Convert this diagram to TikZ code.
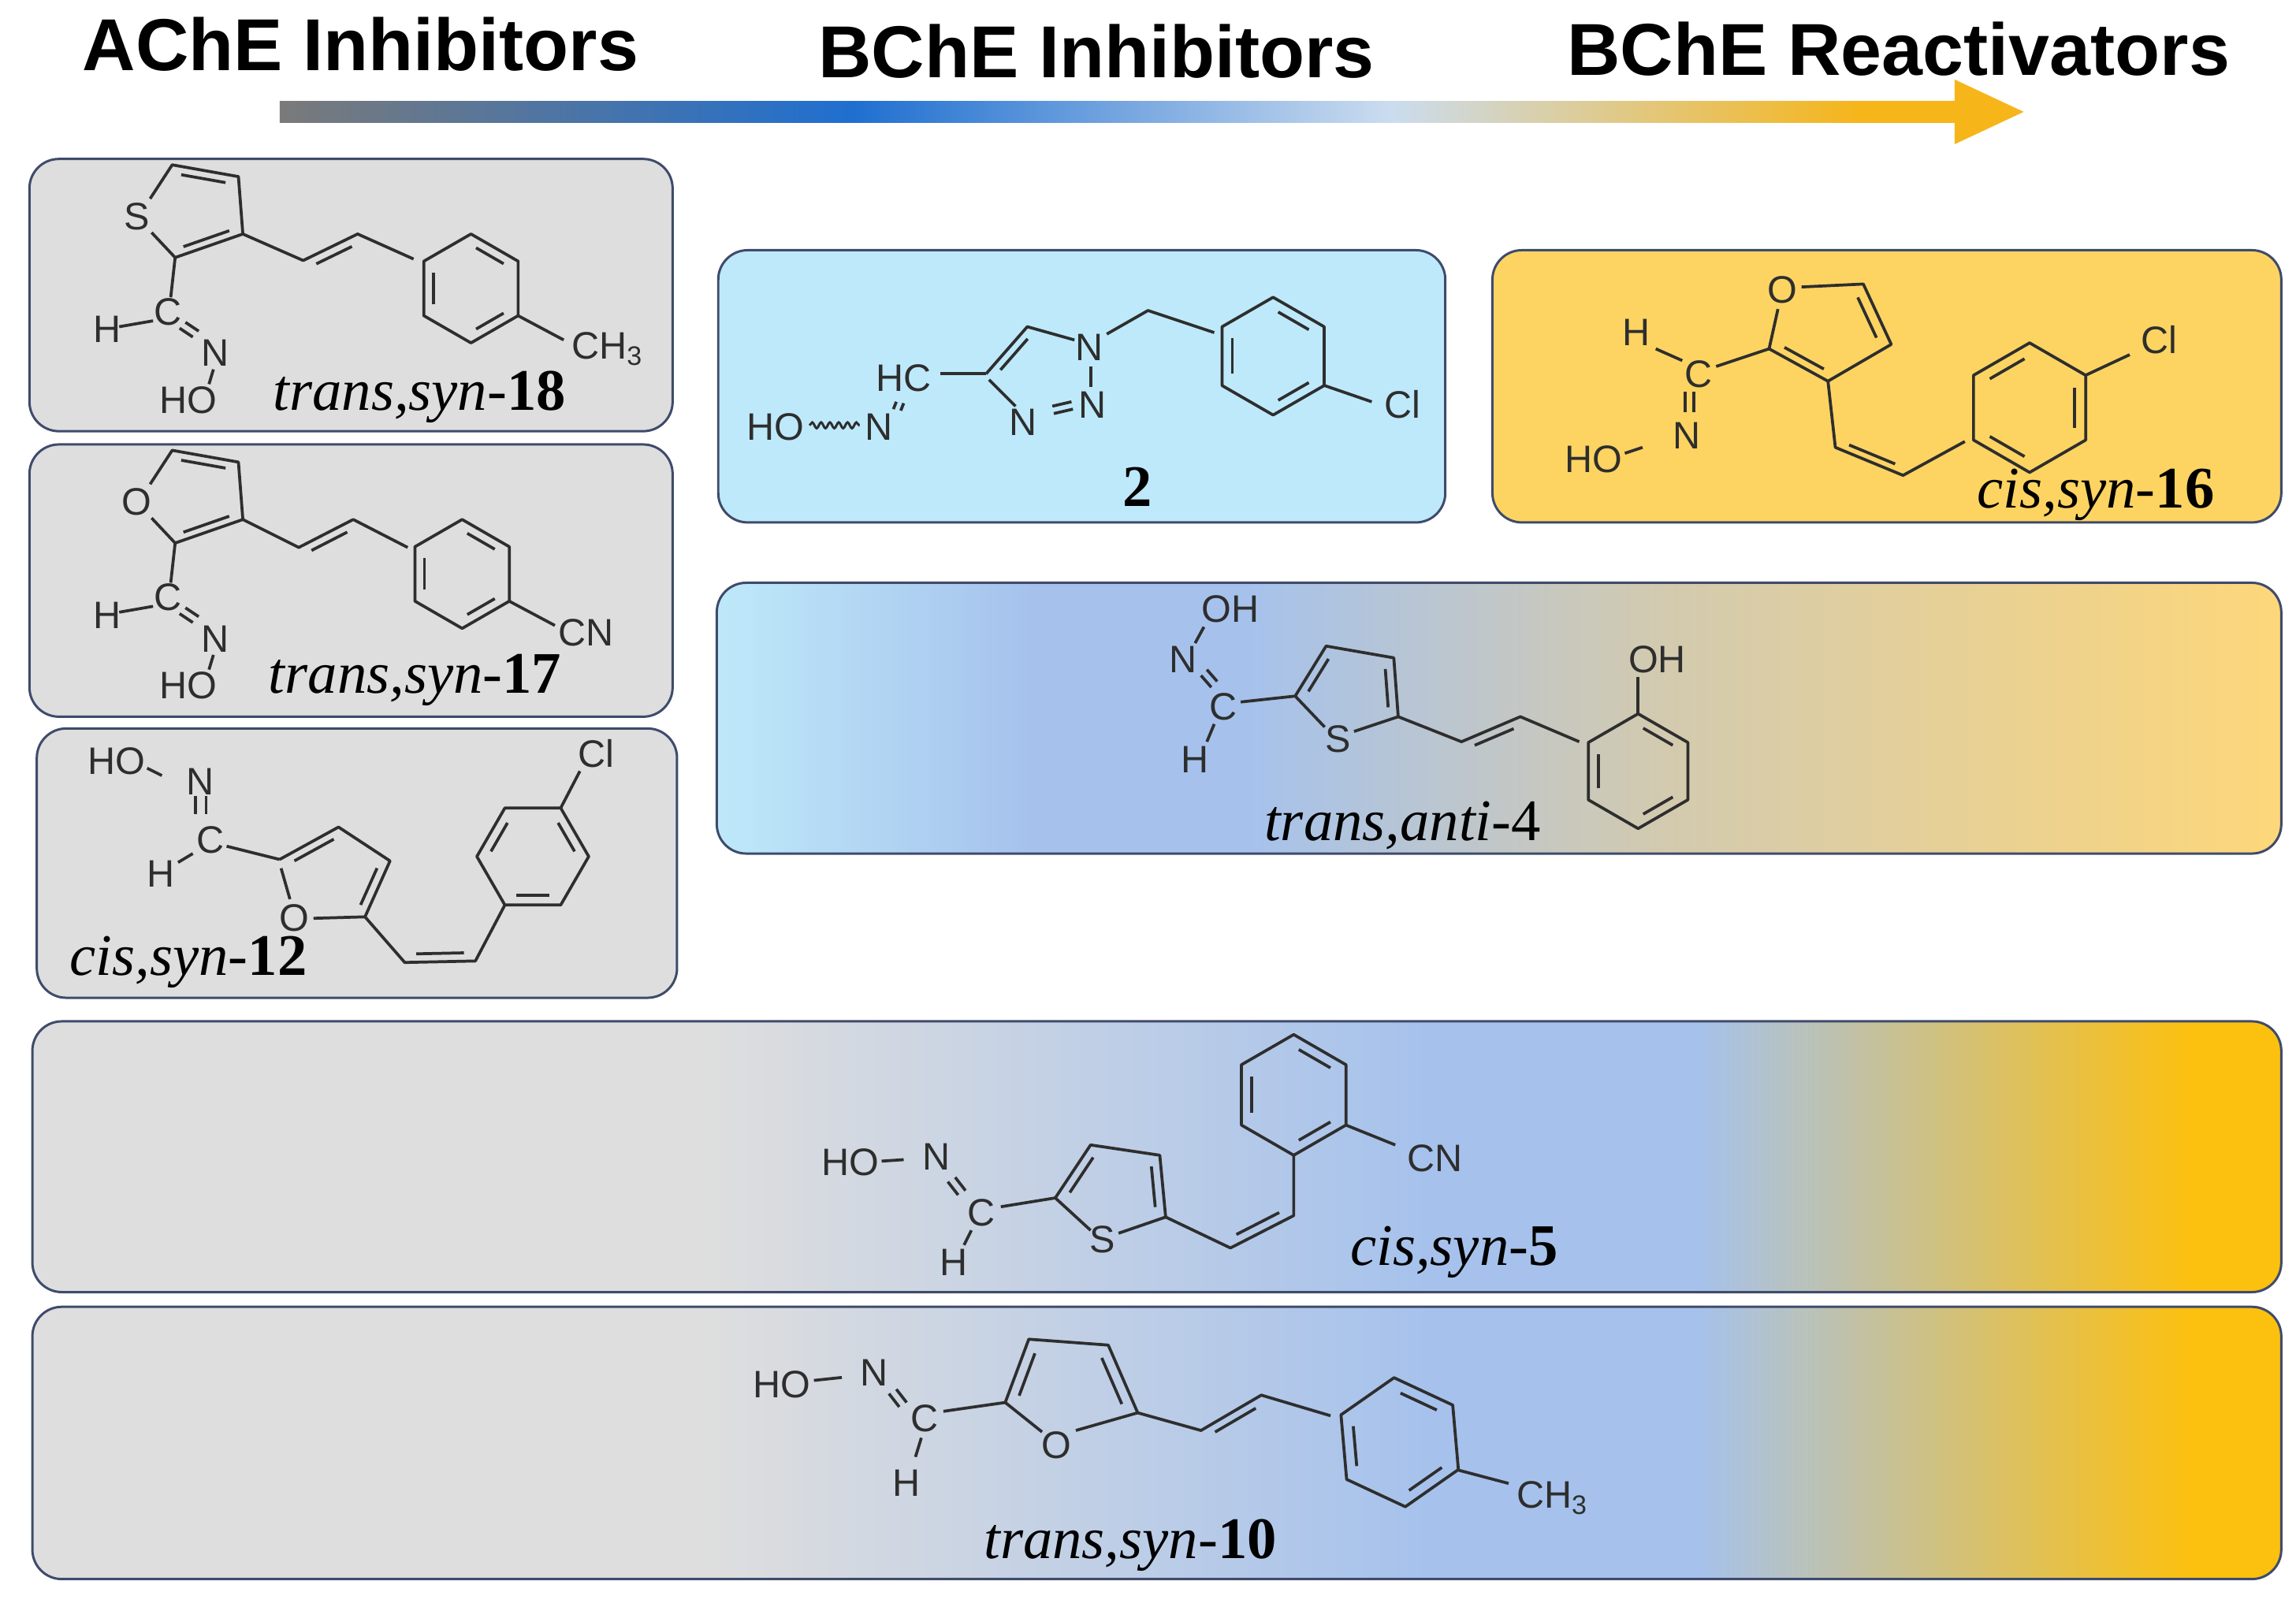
\documentclass[tikz,border=0pt]{standalone}
\usepackage{fontspec}
\setmainfont{Liberation Serif}
\newfontfamily\arial{Liberation Sans}
\usetikzlibrary{calc,decorations.pathmorphing}
\definecolor{gbox}{HTML}{DEDEDE}
\definecolor{bbox}{HTML}{BEE9FA}
\definecolor{ybox}{HTML}{FDD462}
\definecolor{bord}{HTML}{3F4B6B}
\definecolor{lav}{HTML}{A6C2EC}
\definecolor{beige}{HTML}{D2CAB0}
\definecolor{ygold}{HTML}{FDD77A}
\definecolor{gold}{HTML}{FCC00F}
\definecolor{arrg}{HTML}{7A7A7A}
\definecolor{arrb}{HTML}{1F6FD0}
\definecolor{arrl}{HTML}{CBDCEF}
\definecolor{arro}{HTML}{F6B519}
\definecolor{ink}{HTML}{2E2E2E}
\pgfdeclarehorizontalshading{rowsh}{100bp}{color(0bp)=(gbox); color(40bp)=(gbox); color(56bp)=(lav); color(62bp)=(lav); color(73bp)=(gold); color(100bp)=(gold)}
\pgfdeclarehorizontalshading{foursh}{100bp}{color(0bp)=(bbox); color(25bp)=(bbox); color(35bp)=(lav); color(42bp)=(lav); color(55bp)=(beige); color(75bp)=(ygold); color(100bp)=(ygold)}
\pgfdeclarehorizontalshading{arrsh}{100bp}{color(0bp)=(arrg); color(25bp)=(arrg); color(42bp)=(arrb); color(58bp)=(arrl); color(72bp)=(arro); color(100bp)=(arro)}
\tikzset{
 bond/.style={draw=ink,line width=1pt,line join=round},
 atom/.style={font=\arial\fontsize{13}{13}\selectfont,text=ink,inner sep=0pt},
 capt/.style={font=\fontsize{20}{20}\selectfont,inner sep=0pt},
 ttl/.style={font=\arial\bfseries\fontsize{25}{25}\selectfont,inner sep=0pt},
 boxp/.style={draw=bord,line width=0.8pt,rounded corners=10pt},
}
\newcommand\benz[5]{%
 \draw[bond] ([shift={(#1,#2)}]#4:#3) -- ([shift={(#1,#2)}]#4+60:#3) -- ([shift={(#1,#2)}]#4+120:#3) -- ([shift={(#1,#2)}]#4+180:#3) -- ([shift={(#1,#2)}]#4+240:#3) -- ([shift={(#1,#2)}]#4+300:#3) -- cycle;
 \foreach \k in {0,2,4}{\pgfmathsetmacro\aa{#4+60*(\k+#5)}\pgfmathsetmacro\bb{\aa+60}\pgfmathsetmacro\rr{0.8*#3}%
 \draw[bond,shorten <=2pt,shorten >=2pt] ([shift={(#1,#2)}]\aa:\rr) -- ([shift={(#1,#2)}]\bb:\rr);}}
\newcommand\inb[3]{\draw[bond,shorten <=1.5pt,shorten >=1.5pt] ($#1!0.8!#2$) -- ($#1!0.8!#3$);}
\begin{document}
\begin{tikzpicture}[x=0.5pt,y=-0.5pt]
\useasboundingbox (0,0) rectangle (1560,1089);
\fill[white] (0,0) rectangle (1560,1089);
% titles and arrow
\node[ttl] (t1) at (245,30) {AChE Inhibitors};
\node[ttl] (t2) at (745,35) {BChE Inhibitors};
\node[ttl] (t3) at (1290,33) {BChE Reactivators};
\shade[shading=arrsh] (190,69) rectangle (1334,83);
\fill[arro] (1328,54) -- (1375,76) -- (1328,98) -- cycle;
% boxes
\path[boxp,fill=gbox] (20,108) rectangle (457,293);
\path[boxp,fill=gbox] (20,302) rectangle (457,487);
\path[boxp,fill=gbox] (25,495) rectangle (460,678);
\path[boxp,fill=bbox] (488,170) rectangle (982,355);
\path[boxp,fill=ybox] (1014,170) rectangle (1550,355);
\shadedraw[boxp,shading=foursh] (487,396) rectangle (1550,580);
\shadedraw[boxp,shading=rowsh] (22,694) rectangle (1550,878);
\shadedraw[boxp,shading=rowsh] (22,888) rectangle (1550,1073);

% ---- trans,syn-18 and 17
\foreach \dy/\het/\nm in {0/S/a,194/O/b}{
\begin{scope}[yshift=-\dy*0.5pt]
\node[atom] (het\nm) at (93,147) {\het};
\draw[bond] (102,135) -- (117,112) -- (162,120) -- (165,159) -- (119,175) -- (103,158);
\inb{(133,143)}{(117,112)}{(162,120)}
\inb{(133,143)}{(165,159)}{(119,175)}
\draw[bond] (119,175) -- (116,202);
\node[atom] (c\nm) at (114,212) {C};
\node[atom] (h\nm) at (73,224) {H};
\draw[bond] (81,222) -- (104,218);
\draw[bond] (122,223) -- (131,229); \draw[bond] (126,219) -- (135,225);
\node[atom] (n\nm) at (146,240) {N};
\draw[bond] (145,251) -- (142,261);
\node[atom] (ho\nm) at (128,272) {HO};
\end{scope}}
\draw[bond] (165,159) -- (206,177) -- (243,159) -- (281,176);
\inb{(237,195)}{(206,177)}{(243,159)}
\benz{320}{196}{37}{30}{0}
\draw[bond] (352,214.5) -- (383,231);
\node[atom,anchor=west] (ch3a) at (388,237) {CH\textsubscript{3}};
\node[capt] (cap18) at (285,270) {\textit{trans,syn}-\textbf{18}};

\draw[bond] (165,353) -- (203,372) -- (240,353) -- (277,372);
\inb{(233,389)}{(203,372)}{(240,353)}
\benz{314}{390}{37}{30}{0}
\draw[bond] (346,408.5) -- (377,425);
\node[atom] (cnb) at (398,430) {CN};
\node[capt] (cap17) at (282,462) {\textit{trans,syn}-\textbf{17}};

% ---- cis,syn-12
\node[atom] (ho12) at (79,517) {HO};
\draw[bond] (100,522) -- (110,527);
\node[atom] (n12) at (136,531) {N};
\draw[bond] (133,541) -- (133,553); \draw[bond] (140,541) -- (140,553);
\node[atom] (c12) at (143,571) {C};
\node[atom] (h12) at (109,594) {H};
\draw[bond] (121,586) -- (131,580);
\draw[bond] (154,575) -- (190,584);
\draw[bond] (191,590) -- (197,611);
\draw[bond] (190,584) -- (230,562) -- (265,585) -- (248,623) -- (213,624);
\node[atom] (o12) at (200,624) {O};
\inb{(227,596)}{(190,584)}{(230,562)}
\inb{(227,596)}{(265,585)}{(248,623)}
\draw[bond] (248,623) -- (275,654) -- (323,653) -- (343,615);
\inb{(299,625)}{(275,654)}{(323,653)}
\benz{362}{582}{38}{0}{1}
\draw[bond] (381,549) -- (394,524);
\node[atom] (cl12) at (405,512) {Cl};
\node[capt] (cap12) at (128,654) {\textit{cis,syn}-\textbf{12}};

% ---- 2
\node[atom] (ho2) at (527,290) {HO};
\draw[ink,line width=0.8pt,decorate,decoration={snake,segment length=3pt,amplitude=1pt}] (550,289) -- (584,289);
\node[atom] (n2o) at (597,290) {N};
\draw[bond] (607,278) -- (609,273); \draw[bond] (612,279) -- (614,274);
\node[atom] (hc2) at (614,257) {HC};
\draw[bond] (639,254) -- (670,254);
\draw[bond] (670,254) -- (698,222) -- (730,231);
\inb{(709,252)}{(670,254)}{(698,222)}
\node[atom] (n21) at (740,236) {N};
\draw[bond] (741,249) -- (741,263);
\node[atom] (n22) at (742,275) {N};
\draw[bond] (716,281) -- (729,278); \draw[bond] (715,276) -- (728,273);
\node[atom] (n23) at (695,287) {N};
\draw[bond] (690,276) -- (672,258);
\draw[bond] (752,227) -- (780,211) -- (825,226);
\benz{865}{242}{40}{30}{0}
\draw[bond] (900,262) -- (932,273);
\node[atom] (cl2) at (953,275) {Cl};
\node[capt] (cap2) at (773,331) {\textbf{2}};

% ---- cis,syn-16
\node[atom] (o16) at (1211,197) {O};
\draw[bond] (1224,195) -- (1266,193) -- (1285,234) -- (1242,259) -- (1202,237) -- (1208,210);
\inb{(1241,225)}{(1266,193)}{(1285,234)}
\inb{(1241,225)}{(1242,259)}{(1202,237)}
\draw[bond] (1202,237) -- (1166,249);
\node[atom] (c16) at (1154,254) {C};
\node[atom] (h16) at (1112,226) {H};
\draw[bond] (1125,237) -- (1143,245);
\draw[bond] (1145,266) -- (1145,280); \draw[bond] (1151,266) -- (1151,280);
\node[atom] (n16) at (1146,296) {N};
\node[atom] (ho16) at (1083,312) {HO};
\draw[bond] (1104,308) -- (1116,304);
\draw[bond] (1242,259) -- (1247,304) -- (1293,323) -- (1335,300);
\inb{(1280,290)}{(1247,304)}{(1293,323)}
\benz{1379}{277}{44}{30}{1}
\draw[bond] (1417,255) -- (1447,241);
\node[atom] (cl16) at (1467,231) {Cl};
\node[capt] (cap16) at (1424,336) {\textit{cis,syn}-\textbf{16}};

% ---- trans,anti-4
\node[atom] (oh4) at (836,414) {OH};
\draw[bond] (818,426) -- (812,437);
\node[atom] (n4) at (804,448) {N};
\draw[bond] (816,459) -- (823,467); \draw[bond] (820,455) -- (827,463);
\node[atom] (c4) at (831,480) {C};
\node[atom] (h4) at (812,516) {H};
\draw[bond] (825,492) -- (820,504);
\draw[bond] (843,477) -- (880,473);
\draw[bond] (900,494) -- (880,473) -- (901,439) -- (947,447) -- (950,487) -- (920,497);
\node[atom] (s4) at (909,502) {S};
\inb{(917,470)}{(880,473)}{(901,439)}
\inb{(917,470)}{(947,447)}{(950,487)}
\draw[bond] (950,487) -- (993,504) -- (1033,487) -- (1073,504);
\inb{(1024,522)}{(993,504)}{(1033,487)}
\benz{1113}{524}{39}{30}{0}
\draw[bond] (1113,485) -- (1113,460);
\node[atom] (oh4b) at (1126,448) {OH};
\node[capt] (cap4) at (953,561) {\textit{trans,anti}-4};

% ---- cis,syn-5
\node[atom] (ho5) at (578,790) {HO};
\draw[bond] (599,789) -- (614,788);
\node[atom] (n5) at (636,786) {N};
\draw[bond] (644,803) -- (651,812); \draw[bond] (649,800) -- (656,809);
\node[atom] (c5) at (667,824) {C};
\node[atom] (h5) at (648,858) {H};
\draw[bond] (660,836) -- (655,846);
\draw[bond] (680,820) -- (717,814);
\draw[bond] (741,836) -- (717,814) -- (741,778) -- (788,785) -- (792,827) -- (760,838);
\node[atom] (s5) at (749,842) {S};
\inb{(758,808)}{(717,814)}{(741,778)}
\inb{(758,808)}{(788,785)}{(792,827)}
\draw[bond] (792,827) -- (836,848) -- (879,826) -- (879,785);
\inb{(843,809)}{(836,848)}{(879,826)}
\benz{879}{744}{41}{30}{0}
\draw[bond] (914.5,764.5) -- (948,778);
\node[atom] (cn5) at (975,787) {CN};
\node[capt] (cap5) at (988,851) {\textit{cis,syn}-\textbf{5}};

% ---- trans,syn-10
\node[atom] (ho10) at (531,941) {HO};
\draw[bond] (553,938) -- (572,936);
\node[atom] (n10) at (594,933) {N};
\draw[bond] (604,947) -- (611,956); \draw[bond] (609,944) -- (616,953);
\node[atom] (c10) at (628,964) {C};
\node[atom] (h10) at (616,1008) {H};
\draw[bond] (626,977) -- (622,990);
\draw[bond] (641,959) -- (683,953);
\draw[bond] (708,973) -- (683,953) -- (699,910) -- (753,914) -- (773,960) -- (731,972);
\node[atom] (o10) at (718,982) {O};
\inb{(725,944)}{(683,953)}{(699,910)}
\inb{(725,944)}{(753,914)}{(773,960)}
\draw[bond] (773,960) -- (816,972) -- (857,948) -- (904,962);
\inb{(851,985)}{(816,972)}{(857,948)}
\benz{951}{980}{44}{25}{0}
\draw[bond] (991,999) -- (1025,1008);
\node[atom,anchor=west] (ch3c) at (1030,1018) {CH\textsubscript{3}};
\node[capt] (cap10) at (768,1050) {\textit{trans,syn}-\textbf{10}};
\end{tikzpicture}
\end{document}
